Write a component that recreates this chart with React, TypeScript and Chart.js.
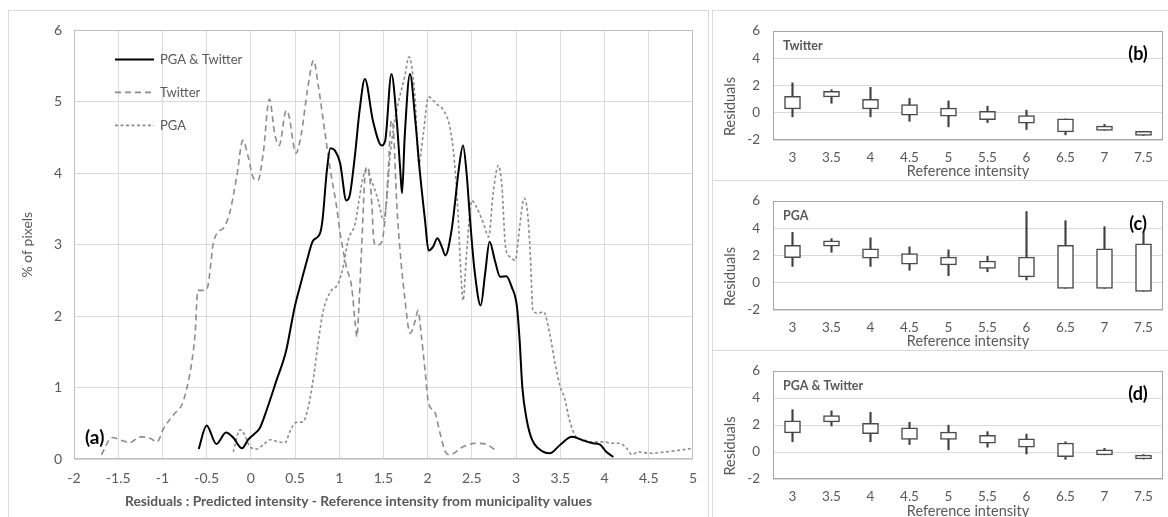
import React, { useEffect, useRef } from 'react';
import { Chart, registerables } from 'chart.js';
Chart.register(...registerables);

const FONT = 'Lato, "Noto Sans", sans-serif';
const GRAY = '#595959';

// ---------- (a) distribution of residuals ----------
const mainXTicks = [-2, -1.5, -1, -0.5, 0, 0.5, 1, 1.5, 2, 2.5, 3, 3.5, 4, 4.5, 5];
const mainYTicks = [0, 1, 2, 3, 4, 5, 6];
const mainXTitle = 'Residuals : Predicted intensity - Reference intensity from municipality values';

const comboX = [-0.59, -0.5, -0.39, -0.28, -0.2, -0.1, -0.03, 0.03, 0.1, 0.18, 0.29, 0.4, 0.46, 0.5, 0.57, 0.65, 0.7, 0.78, 0.81, 0.86, 0.9, 0.95, 1.01, 1.08, 1.12, 1.18, 1.23, 1.29, 1.38, 1.48, 1.52, 1.59, 1.65, 1.69, 1.71, 1.74, 1.8, 1.86, 1.91, 1.97, 2.01, 2.06, 2.11, 2.16, 2.2, 2.27, 2.31, 2.35, 2.4, 2.44, 2.48, 2.53, 2.6, 2.65, 2.7, 2.76, 2.82, 2.89, 2.95, 3.01, 3.04, 3.07, 3.12, 3.18, 3.25, 3.38, 3.5, 3.63, 3.76, 3.87, 3.95, 4.02, 4.1];
const comboY = [0.14, 0.47, 0.21, 0.37, 0.3, 0.15, 0.27, 0.34, 0.43, 0.69, 1.1, 1.52, 1.9, 2.15, 2.48, 2.85, 3.05, 3.15, 3.34, 4.04, 4.35, 4.32, 4.14, 3.62, 3.7, 4.28, 4.88, 5.32, 4.74, 4.39, 4.46, 5.39, 4.74, 4.04, 3.72, 4.51, 5.39, 4.74, 4.04, 3.34, 2.92, 2.97, 3.09, 2.97, 2.85, 3.2, 3.6, 4.04, 4.39, 4.0, 3.34, 2.64, 2.15, 2.6, 3.04, 2.78, 2.55, 2.56, 2.41, 2.13, 1.66, 1.01, 0.55, 0.27, 0.15, 0.08, 0.2, 0.31, 0.26, 0.22, 0.2, 0.1, 0.03];

const twitterX = [-1.69, -1.57, -1.46, -1.37, -1.25, -1.14, -1.06, -0.99, -0.86, -0.78, -0.73, -0.67, -0.63, -0.6, -0.53, -0.49, -0.46, -0.43, -0.4, -0.35, -0.31, -0.24, -0.16, -0.09, -0.03, 0.03, 0.08, 0.14, 0.21, 0.27, 0.32, 0.4, 0.43, 0.51, 0.57, 0.64, 0.71, 0.76, 0.84, 0.9, 0.97, 1.01, 1.05, 1.08, 1.14, 1.18, 1.2, 1.22, 1.25, 1.29, 1.31, 1.34, 1.37, 1.39, 1.42, 1.48, 1.52, 1.55, 1.59, 1.61, 1.65, 1.69, 1.74, 1.8, 1.86, 1.89, 1.93, 1.97, 2.01, 2.08, 2.14, 2.2, 2.25, 2.4, 2.55, 2.67, 2.76];
const twitterY = [0.06, 0.3, 0.26, 0.23, 0.31, 0.29, 0.24, 0.42, 0.64, 0.76, 0.96, 1.34, 1.76, 2.36, 2.36, 2.4, 2.65, 2.98, 3.12, 3.2, 3.23, 3.44, 3.95, 4.46, 4.23, 3.93, 3.9, 4.28, 5.04, 4.55, 4.39, 4.88, 4.81, 4.28, 4.55, 5.16, 5.58, 5.25, 4.55, 4.04, 3.53, 3.16, 2.88, 2.69, 2.41, 1.9, 1.71, 2.08, 2.88, 3.95, 4.09, 4.0, 3.53, 3.06, 2.99, 3.04, 3.39, 3.95, 4.74, 4.65, 3.58, 2.88, 2.27, 1.76, 1.94, 2.08, 1.71, 1.24, 0.78, 0.66, 0.36, 0.1, 0.06, 0.17, 0.22, 0.2, 0.13];

const pgaX = [-0.2, -0.12, -0.07, -0.01, 0.07, 0.14, 0.22, 0.31, 0.39, 0.44, 0.51, 0.59, 0.65, 0.71, 0.76, 0.82, 0.9, 0.99, 1.05, 1.1, 1.18, 1.23, 1.27, 1.3, 1.37, 1.44, 1.5, 1.54, 1.57, 1.61, 1.67, 1.74, 1.79, 1.83, 1.86, 1.9, 1.95, 2.01, 2.1, 2.18, 2.25, 2.3, 2.34, 2.38, 2.4, 2.44, 2.5, 2.55, 2.63, 2.69, 2.74, 2.8, 2.84, 2.88, 2.93, 2.99, 3.04, 3.09, 3.13, 3.16, 3.19, 3.25, 3.31, 3.38, 3.44, 3.5, 3.55, 3.6, 3.68, 3.76, 3.85, 3.99, 4.08, 4.17, 4.25, 4.31, 4.38, 4.51, 4.7, 4.89, 5.0];
const pgaY = [0.1, 0.41, 0.34, 0.17, 0.14, 0.2, 0.27, 0.24, 0.23, 0.38, 0.51, 0.52, 0.73, 1.15, 1.62, 2.08, 2.34, 2.46, 2.72, 3.06, 3.3, 3.67, 3.95, 4.04, 3.88, 3.62, 3.34, 3.67, 4.18, 4.6, 5.0, 5.35, 5.63, 5.4, 5.0, 4.14, 4.55, 5.07, 4.97, 4.88, 4.65, 4.2, 3.5, 2.5, 2.22, 2.88, 3.62, 3.53, 3.3, 3.11, 3.72, 4.11, 3.81, 2.97, 2.83, 2.78, 3.25, 3.65, 3.44, 2.88, 2.08, 2.04, 2.06, 1.76, 1.34, 1.01, 0.85, 0.56, 0.31, 0.27, 0.24, 0.24, 0.22, 0.22, 0.15, 0.06, 0.1, 0.08, 0.1, 0.13, 0.15];

// ---------- (b)(c)(d) box plots ----------
const boxCategories = ['3', '3.5', '4', '4.5', '5', '5.5', '6', '6.5', '7', '7.5'];
const boxYTicks = [-2, 0, 2, 4, 6];

const twitterQ1 = [0.28, 1.16, 0.28, -0.17, -0.25, -0.5, -0.76, -1.4, -1.29, -1.67];
const twitterQ3 = [1.2, 1.58, 0.98, 0.6, 0.34, 0.1, -0.21, -0.45, -0.98, -1.36];
const twitterMin = [-0.3, 0.7, -0.3, -0.63, -1.03, -0.72, -1.23, -1.62, -1.29, -1.67];
const twitterMax = [2.2, 1.69, 1.87, 1.05, 0.87, 0.48, 0.19, -0.45, -0.85, -1.36];

const pgaQ1 = [1.85, 2.69, 1.8, 1.36, 1.31, 1.05, 0.43, -0.41, -0.41, -0.63];
const pgaQ3 = [2.75, 3.08, 2.5, 2.15, 1.89, 1.6, 1.89, 2.75, 2.49, 2.86];
const pgaMin = [1.2, 2.24, 1.2, 0.92, 0.52, 0.81, 0.21, -0.41, -0.41, -0.63];
const pgaMax = [3.7, 3.24, 3.3, 2.64, 2.42, 1.96, 5.23, 4.56, 4.12, 3.7];

const comboQ1 = [1.42, 2.23, 1.37, 0.93, 0.93, 0.65, 0.36, -0.34, -0.21, -0.52];
const comboQ3 = [2.32, 2.7, 2.12, 1.79, 1.48, 1.24, 0.98, 0.67, 0.16, -0.23];
const comboMin = [0.76, 1.93, 0.76, 0.56, 0.16, 0.36, -0.15, -0.54, -0.21, -0.52];
const comboMax = [3.14, 3.05, 2.94, 2.21, 1.99, 1.51, 1.33, 0.76, 0.27, -0.19];

const pts = (xs: number[], ys: number[]) => xs.map((x, i) => ({ x, y: ys[i] }));

function borderRect(chart: any, color: string) {
  const { ctx, chartArea: a } = chart;
  ctx.save();
  ctx.strokeStyle = color;
  ctx.lineWidth = 1;
  const l = Math.round(a.left) + 0.5, t = Math.round(a.top) + 0.5;
  const r = Math.round(a.right) - 0.5, b = Math.round(a.bottom) - 0.5;
  ctx.strokeRect(l, t, r - l, b - t);
  ctx.restore();
}

function MainChart() {
  const ref = useRef<HTMLCanvasElement>(null);
  useEffect(() => {
    const extras = {
      id: 'extrasMain',
      afterDraw(chart: any) {
        borderRect(chart, '#bfbfbf');
        const { ctx, chartArea: a } = chart;
        ctx.save();
        chart.data.datasets.forEach((ds: any, i: number) => {
          const y = a.top + 29 + i * 33;
          ctx.beginPath();
          ctx.setLineDash(ds.borderDash || []);
          ctx.strokeStyle = ds.borderColor;
          ctx.lineWidth = ds.borderWidth;
          ctx.moveTo(a.left + 41, y);
          ctx.lineTo(a.left + 80, y);
          ctx.stroke();
          ctx.setLineDash([]);
          ctx.fillStyle = GRAY;
          ctx.font = `13px ${FONT}`;
          ctx.textBaseline = 'middle';
          ctx.textAlign = 'left';
          ctx.fillText(ds.label, a.left + 86, y);
        });
        ctx.fillStyle = '#000';
        ctx.font = `bold 19px ${FONT}`;
        ctx.textBaseline = 'middle';
        ctx.fillText('(a)', a.left + 11, a.bottom - 21);
        // x-axis title (offset left as in the original layout)
        ctx.fillStyle = GRAY;
        ctx.font = `bold 13.8px ${FONT}`;
        ctx.textAlign = 'center';
        ctx.fillText(mainXTitle, (a.left + a.right) / 2 - 25, chart.height - 15);
        ctx.restore();
      },
    };
    const chart = new Chart(ref.current!, {
      type: 'scatter',
      data: {
        datasets: [
          { label: 'PGA & Twitter', data: pts(comboX, comboY), showLine: true, borderColor: '#000000', borderWidth: 2, pointRadius: 0, cubicInterpolationMode: 'monotone' } as any,
          { label: 'Twitter', data: pts(twitterX, twitterY), showLine: true, borderColor: '#8c8c8c', borderWidth: 1.6, borderDash: [6, 4], pointRadius: 0, cubicInterpolationMode: 'monotone' } as any,
          { label: 'PGA', data: pts(pgaX, pgaY), showLine: true, borderColor: '#8c8c8c', borderWidth: 1.6, borderDash: [3, 2.5], pointRadius: 0, cubicInterpolationMode: 'monotone' } as any,
        ],
      },
      options: {
        animation: false,
        responsive: false,
        devicePixelRatio: 1,
        layout: { padding: { left: 0, right: 15, top: 20, bottom: 0 } },
        plugins: { legend: { display: false }, tooltip: { enabled: false } },
        scales: {
          x: {
            type: 'linear', min: -2, max: 5,
            afterBuildTicks: (s: any) => { s.ticks = mainXTicks.map((v) => ({ value: v })); },
            afterFit: (s: any) => { s.height = 58; },
            grid: { color: '#d9d9d9', drawTicks: false },
            border: { display: false },
            ticks: { color: GRAY, font: { family: FONT, size: 14 }, padding: 11, maxRotation: 0, autoSkip: false, callback: (v: any) => String(v) },
            title: { display: false },
          },
          y: {
            min: 0, max: 6,
            afterBuildTicks: (s: any) => { s.ticks = mainYTicks.map((v) => ({ value: v })); },
            afterFit: (s: any) => { s.width = 66; },
            grid: { color: '#d9d9d9', drawTicks: false },
            border: { display: false },
            ticks: { color: GRAY, font: { family: FONT, size: 14 }, padding: 12, callback: (v: any) => String(v) },
            title: { display: true, text: '% of pixels', color: GRAY, font: { family: FONT, size: 14 }, padding: { top: 11, bottom: 0 } },
          },
        },
      } as any,
      plugins: [extras],
    });
    return () => chart.destroy();
  }, []);
  return <canvas ref={ref} width={700} height={507} style={{ position: 'absolute', left: 8, top: 10, display: 'block' }} />;
}

function BoxPanel(props: { top: number; name: string; tag: string; q1: number[]; q3: number[]; lo: number[]; hi: number[]; padTop: number; axisH: number }) {
  const ref = useRef<HTMLCanvasElement>(null);
  useEffect(() => {
    const extras = {
      id: 'extrasBox',
      afterDraw(chart: any) {
        borderRect(chart, '#a6a6a6');
        const { ctx, chartArea: a } = chart;
        ctx.save();
        ctx.fillStyle = GRAY;
        ctx.font = `bold 12.5px ${FONT}`;
        ctx.textBaseline = 'middle';
        ctx.textAlign = 'left';
        ctx.fillText(props.name, a.left + 10, a.top + 15);
        ctx.fillStyle = '#000';
        ctx.font = `bold 18px ${FONT}`;
        ctx.textAlign = 'center';
        ctx.fillText(props.tag, a.right - 25, a.top + 23);
        ctx.translate(18, (a.top + a.bottom) / 2 + 21);
        ctx.rotate(-Math.PI / 2);
        ctx.fillStyle = GRAY;
        ctx.font = `14.5px ${FONT}`;
        ctx.fillText('Residuals', 0, 0);
        ctx.restore();
      },
    };
    const chart = new Chart(ref.current!, {
      type: 'bar',
      data: {
        labels: boxCategories,
        datasets: [
          { label: 'whisker', data: boxCategories.map((_, i) => [props.lo[i], props.hi[i]]), backgroundColor: '#404040', borderWidth: 0, barThickness: 1.5, grouped: false, order: 2 } as any,
          { label: 'box', data: boxCategories.map((_, i) => [props.q1[i], props.q3[i]]), backgroundColor: '#ffffff', borderColor: '#4a4a4a', borderWidth: 1.5, borderSkipped: false, barThickness: 16, grouped: false, order: 1 } as any,
        ],
      },
      options: {
        animation: false,
        responsive: false,
        devicePixelRatio: 1,
        layout: { padding: { left: 0, right: 5, top: props.padTop, bottom: 0 } },
        plugins: { legend: { display: false }, tooltip: { enabled: false } },
        scales: {
          x: {
            afterFit: (s: any) => { s.height = props.axisH; },
            grid: { display: false, drawTicks: false },
            border: { display: false },
            ticks: { color: GRAY, font: { family: FONT, size: 13.5 }, padding: 10, maxRotation: 0, autoSkip: false },
            title: { display: true, text: 'Reference intensity', color: GRAY, font: { family: FONT, size: 14.5 }, padding: { top: 0, bottom: 0 } },
          },
          y: {
            min: -2, max: 6,
            afterBuildTicks: (s: any) => { s.ticks = boxYTicks.map((v) => ({ value: v })); },
            afterFit: (s: any) => { s.width = 61; },
            grid: { color: '#d9d9d9', drawTicks: false },
            border: { display: false },
            ticks: { color: GRAY, font: { family: FONT, size: 13.5 }, padding: 13 },
          },
        },
      } as any,
      plugins: [extras],
    });
    return () => chart.destroy();
  }, []);
  return <canvas ref={ref} width={456} height={170} style={{ position: 'absolute', left: 712, top: props.top, display: 'block' }} />;
}

export default function App() {
  const frame = '1px solid #d9d9d9';
  return (
    <div style={{ position: 'absolute', left: 0, top: 0, width: 1168, height: 517, overflow: 'hidden', background: '#fff' }}>
      <div style={{ position: 'absolute', left: 8, top: 10, width: 701, height: 520, borderLeft: frame, borderTop: frame, borderRight: frame, boxSizing: 'border-box' }} />
      <div style={{ position: 'absolute', left: 712, top: 10, width: 470, height: 170, borderLeft: frame, borderTop: frame, boxSizing: 'border-box' }} />
      <div style={{ position: 'absolute', left: 712, top: 180, width: 470, height: 170, borderLeft: frame, borderTop: frame, boxSizing: 'border-box' }} />
      <div style={{ position: 'absolute', left: 712, top: 350, width: 470, height: 180, borderLeft: frame, borderTop: frame, boxSizing: 'border-box' }} />
      <MainChart />
      <BoxPanel top={10} name="Twitter" tag="(b)" q1={twitterQ1} q3={twitterQ3} lo={twitterMin} hi={twitterMax} padTop={9} axisH={40} />
      <BoxPanel top={180} name="PGA" tag="(c)" q1={pgaQ1} q3={pgaQ3} lo={pgaMin} hi={pgaMax} padTop={9} axisH={40} />
      <BoxPanel top={350} name="PGA & Twitter" tag="(d)" q1={comboQ1} q3={comboQ3} lo={comboMin} hi={comboMax} padTop={8} axisH={41} />
    </div>
  );
}
